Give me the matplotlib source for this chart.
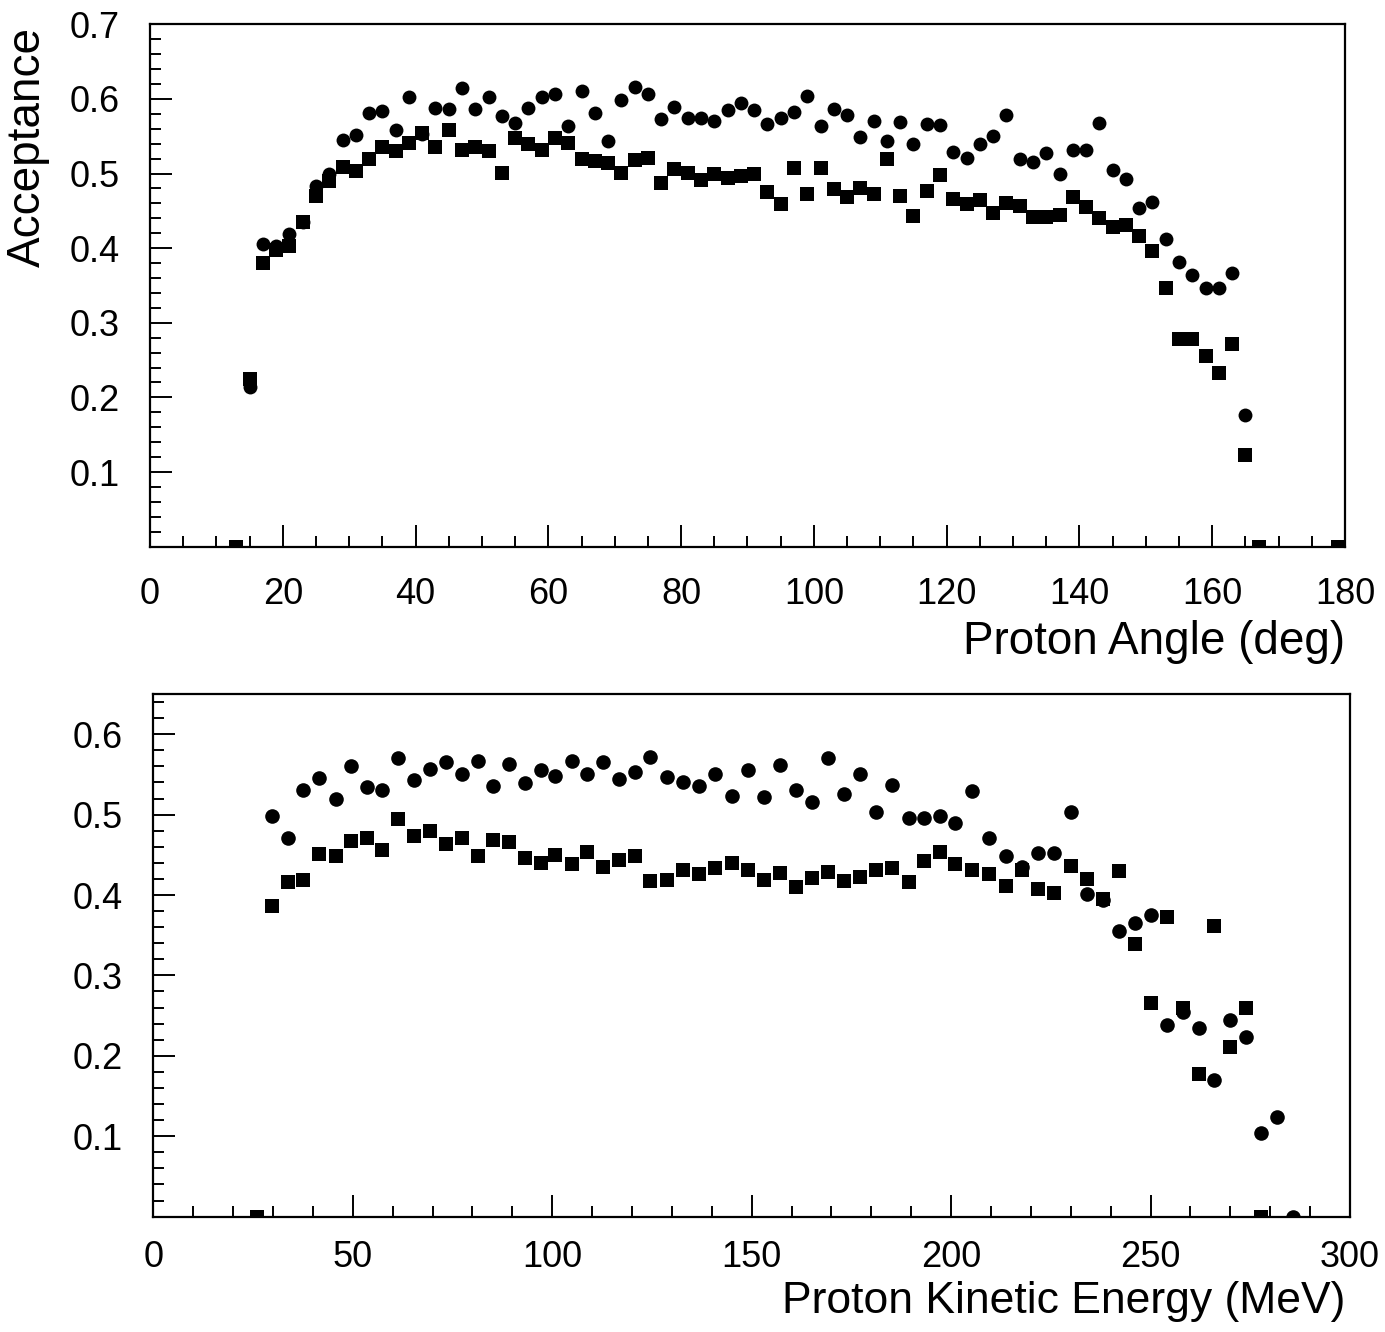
import matplotlib
matplotlib.use("Agg")
import matplotlib.pyplot as plt
from matplotlib.ticker import MultipleLocator, FixedLocator

plt.rcParams['font.family'] = ['Liberation Sans', 'DejaVu Sans']

# ---------------- top panel: acceptance vs proton angle ----------------
angle_circle = [15, 17, 19, 21, 23, 25, 27, 29, 31, 33, 35, 37, 39, 41, 43, 45, 47, 49,
                51, 53, 55, 57, 59, 61, 63, 65, 67, 69, 71, 73, 75, 77, 79, 81, 83, 85,
                87, 89, 91, 93, 95, 97, 99, 101, 103, 105, 107, 109, 111, 113, 115, 117,
                119, 121, 123, 125, 127, 129, 131, 133, 135, 137, 139, 141, 143, 145,
                147, 149, 151, 153, 155, 157, 159, 161, 163, 165]
acc_circle_angle = [0.214, 0.406, 0.403, 0.419, 0.435, 0.483, 0.499, 0.545, 0.552, 0.581,
                    0.584, 0.558, 0.602, 0.553, 0.588, 0.587, 0.615, 0.586, 0.602, 0.577,
                    0.568, 0.588, 0.602, 0.606, 0.563, 0.611, 0.581, 0.544, 0.599, 0.616,
                    0.607, 0.573, 0.589, 0.575, 0.574, 0.570, 0.585, 0.594, 0.585, 0.567,
                    0.575, 0.582, 0.604, 0.563, 0.586, 0.579, 0.549, 0.570, 0.544, 0.569,
                    0.540, 0.566, 0.565, 0.529, 0.521, 0.539, 0.550, 0.579, 0.519, 0.515,
                    0.527, 0.500, 0.531, 0.532, 0.568, 0.505, 0.492, 0.454, 0.462, 0.412,
                    0.382, 0.364, 0.346, 0.347, 0.367, 0.176]

angle_square = [13, 15, 17, 19, 21, 23, 25, 27, 29, 31, 33, 35, 37, 39, 41, 43, 45, 47, 49,
                51, 53, 55, 57, 59, 61, 63, 65, 67, 69, 71, 73, 75, 77, 79, 81, 83, 85,
                87, 89, 91, 93, 95, 97, 99, 101, 103, 105, 107, 109, 111, 113, 115, 117,
                119, 121, 123, 125, 127, 129, 131, 133, 135, 137, 139, 141, 143, 145,
                147, 149, 151, 153, 155, 157, 159, 161, 163, 165, 167, 179]
acc_square_angle = [0.0, 0.224, 0.380, 0.398, 0.403, 0.435, 0.470, 0.490, 0.509, 0.503,
                    0.519, 0.535, 0.530, 0.541, 0.554, 0.535, 0.558, 0.531, 0.536, 0.530,
                    0.501, 0.547, 0.540, 0.532, 0.548, 0.541, 0.520, 0.517, 0.514, 0.501,
                    0.518, 0.521, 0.487, 0.506, 0.501, 0.491, 0.500, 0.494, 0.497, 0.499,
                    0.475, 0.459, 0.508, 0.472, 0.508, 0.479, 0.469, 0.481, 0.473, 0.520,
                    0.470, 0.443, 0.477, 0.498, 0.466, 0.459, 0.465, 0.447, 0.461, 0.457,
                    0.442, 0.442, 0.445, 0.468, 0.455, 0.441, 0.428, 0.431, 0.416, 0.396,
                    0.347, 0.278, 0.278, 0.256, 0.233, 0.271, 0.123, 0.0, 0.0]

# ---------------- bottom panel: acceptance vs proton kinetic energy ----------------
energy_circle = [29.8, 33.8, 37.6, 41.6, 45.7, 49.6, 53.5, 57.4, 61.4, 65.4, 69.4, 73.4,
                 77.3, 81.3, 85.2, 89.2, 93.2, 97.2, 100.8, 105.0, 108.8, 112.8, 116.7,
                 120.8, 124.6, 128.8, 132.8, 136.8, 140.9, 145.1, 149.1, 153.0, 157.0,
                 161.2, 165.1, 169.1, 173.2, 177.1, 181.2, 185.3, 189.4, 193.2, 197.2,
                 201.1, 205.2, 209.5, 213.7, 217.9, 221.9, 225.9, 230.0, 234.0, 238.0,
                 242.1, 246.1, 250.0, 254.1, 258.2, 262.2, 265.9, 269.9, 273.9, 277.7,
                 281.8, 285.8]
acc_circle_energy = [0.498, 0.471, 0.530, 0.546, 0.519, 0.561, 0.534, 0.530, 0.570, 0.543,
                     0.557, 0.566, 0.550, 0.567, 0.535, 0.563, 0.539, 0.555, 0.548, 0.567,
                     0.550, 0.566, 0.544, 0.553, 0.572, 0.547, 0.540, 0.535, 0.550, 0.523,
                     0.555, 0.522, 0.562, 0.531, 0.516, 0.570, 0.525, 0.551, 0.503, 0.537,
                     0.496, 0.496, 0.498, 0.490, 0.529, 0.471, 0.448, 0.435, 0.452, 0.452,
                     0.503, 0.401, 0.394, 0.355, 0.365, 0.375, 0.238, 0.255, 0.234, 0.170,
                     0.245, 0.223, 0.104, 0.124, 0.0]

energy_square = [26.0, 29.8, 33.8, 37.6, 41.6, 45.7, 49.6, 53.5, 57.4, 61.4, 65.4, 69.4,
                 73.4, 77.3, 81.3, 85.2, 89.2, 93.2, 97.2, 100.8, 105.0, 108.8, 112.8,
                 116.7, 120.8, 124.6, 128.8, 132.8, 136.8, 140.9, 145.1, 149.1, 153.0,
                 157.0, 161.2, 165.1, 169.1, 173.2, 177.1, 181.2, 185.3, 189.4, 193.2,
                 197.2, 201.1, 205.2, 209.5, 213.7, 217.9, 221.9, 225.9, 230.0, 234.0,
                 238.0, 242.1, 246.1, 250.0, 254.1, 258.2, 262.2, 265.9, 269.9, 273.9,
                 277.7]
acc_square_energy = [0.0, 0.386, 0.416, 0.419, 0.451, 0.449, 0.467, 0.471, 0.456, 0.495,
                     0.473, 0.479, 0.464, 0.471, 0.448, 0.468, 0.466, 0.446, 0.440, 0.450,
                     0.439, 0.454, 0.435, 0.443, 0.449, 0.417, 0.419, 0.431, 0.426, 0.433,
                     0.440, 0.431, 0.419, 0.427, 0.410, 0.421, 0.428, 0.418, 0.423, 0.431,
                     0.434, 0.416, 0.442, 0.454, 0.439, 0.431, 0.426, 0.411, 0.431, 0.407,
                     0.402, 0.436, 0.420, 0.395, 0.430, 0.339, 0.266, 0.373, 0.260, 0.177,
                     0.361, 0.211, 0.260, 0.0]

angle_ticks = [0, 20, 40, 60, 80, 100, 120, 140, 160, 180]
energy_ticks = [0, 50, 100, 150, 200, 250, 300]
acc_ticks_top = [0.1, 0.2, 0.3, 0.4, 0.5, 0.6, 0.7]
acc_ticks_bottom = [0.1, 0.2, 0.3, 0.4, 0.5, 0.6]

fig = plt.figure(figsize=(13.85, 13.32), dpi=100)
ax1 = fig.add_axes([0.1083, 0.5896, 0.8628, 0.3922])
ax2 = fig.add_axes([0.1107, 0.0866, 0.8640, 0.3924])


def style(ax, xmax, ymax, xt, yt, xminor, xpad):
    ax.set_xlim(0, xmax)
    ax.set_ylim(0, ymax)
    ax.xaxis.set_major_locator(FixedLocator(xt))
    ax.yaxis.set_major_locator(FixedLocator([0.0] + yt))
    ax.xaxis.set_minor_locator(MultipleLocator(xminor))
    ax.yaxis.set_minor_locator(MultipleLocator(0.02))
    ax.set_xticklabels([str(v) for v in xt])
    ax.set_yticklabels([''] + [f"{v:.1f}" for v in yt])
    ax.tick_params(which='both', direction='in', top=False, right=False,
                   color='black', width=1.4)
    ax.tick_params(which='major', length=16, labelsize=26)
    ax.tick_params(which='minor', length=8)
    ax.tick_params(axis='x', which='major', pad=xpad)
    ax.tick_params(axis='y', which='major', pad=22)
    for s in ax.spines.values():
        s.set_linewidth(1.6)
        s.set_color('black')


style(ax1, 180, 0.7, angle_ticks, acc_ticks_top, 5, 22)
style(ax2, 300, 0.65, energy_ticks, acc_ticks_bottom, 10, 17)

ax1.plot(angle_circle, acc_circle_angle, 'o', color='black', ms=10, mew=0)
ax1.plot(angle_square, acc_square_angle, 's', color='black', ms=9.5, mew=0)
ax2.plot(energy_circle, acc_circle_energy, 'o', color='black', ms=10.5, mew=0)
ax2.plot(energy_square, acc_square_energy, 's', color='black', ms=10, mew=0)

ax1.set_xlabel('Proton Angle (deg)', fontsize=33, loc='right')
ax1.xaxis.set_label_coords(1.0, -0.14)
ax1.set_ylabel('Acceptance', fontsize=33, loc='top')
ax1.yaxis.set_label_coords(-0.084, 0.995)

ax2.set_xlabel('Proton Kinetic Energy (MeV)', fontsize=32, loc='right')
ax2.xaxis.set_label_coords(0.996, -0.124)

fig.savefig('out.png', dpi=100)
